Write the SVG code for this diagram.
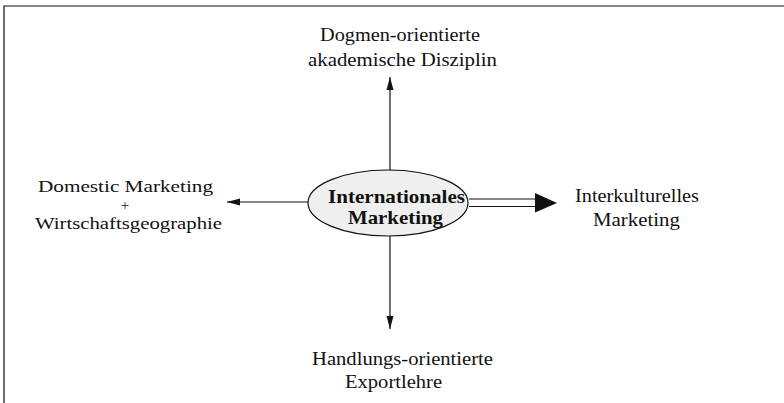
<svg xmlns="http://www.w3.org/2000/svg" width="784" height="403" viewBox="0 0 784 403">
<style>
.t{font-family:"Liberation Serif","Times New Roman",serif;font-size:19px;fill:#111;text-anchor:middle}
.s{font-size:17px}
.p{font-size:15px}
.b{font-weight:bold}
.ln{stroke:#111;stroke-width:1.2;fill:none}
</style>
<defs>
<marker id="ah" markerWidth="14" markerHeight="8" refX="13" refY="4" orient="auto" markerUnits="userSpaceOnUse">
<path d="M0,0.5 L13,4 L0,7.5 Z" fill="#111"/>
</marker>
</defs>
<rect width="784" height="403" fill="#fff"/>
<path d="M4,403 V6 H784" class="ln"/>
<g id="connectors">
<line x1="390" y1="170" x2="390" y2="77" class="ln" marker-end="url(#ah)"/>
<line x1="390" y1="236" x2="390" y2="329" class="ln" marker-end="url(#ah)"/>
<line x1="308" y1="202" x2="227" y2="202" class="ln" marker-end="url(#ah)"/>
<line x1="469" y1="199" x2="536" y2="199" class="ln"/>
<line x1="469" y1="206.5" x2="536" y2="206.5" class="ln"/>
<path d="M535,193 L557,203 L535,212.5 Z" fill="#111"/>
</g>
<g id="center">
<ellipse cx="388" cy="203" rx="80" ry="33" fill="#efefef" stroke="#111" stroke-width="1.2"/>
<text class="t b" x="396.5" y="203" textLength="137" lengthAdjust="spacingAndGlyphs">Internationales</text>
<text class="t b" x="395.5" y="224" textLength="95" lengthAdjust="spacingAndGlyphs">Marketing</text>
</g>
<g id="top">
<text class="t" x="400" y="41" textLength="160" lengthAdjust="spacingAndGlyphs">Dogmen-orientierte</text>
<text class="t" x="402.5" y="66" textLength="189" lengthAdjust="spacingAndGlyphs">akademische Disziplin</text>
</g>
<g id="left">
<text class="t s" x="125.5" y="192" textLength="175" lengthAdjust="spacingAndGlyphs">Domestic Marketing</text>
<text class="t p" x="125" y="210">+</text>
<text class="t s" x="128.5" y="228.5" textLength="187" lengthAdjust="spacingAndGlyphs">Wirtschaftsgeographie</text>
</g>
<g id="right">
<text class="t" x="637" y="202" textLength="124" lengthAdjust="spacingAndGlyphs">Interkulturelles</text>
<text class="t" x="636.5" y="226" textLength="87" lengthAdjust="spacingAndGlyphs">Marketing</text>
</g>
<g id="bottom">
<text class="t" x="402.5" y="365" textLength="181" lengthAdjust="spacingAndGlyphs">Handlungs-orientierte</text>
<text class="t" x="393.5" y="388" textLength="97" lengthAdjust="spacingAndGlyphs">Exportlehre</text>
</g>
</svg>
